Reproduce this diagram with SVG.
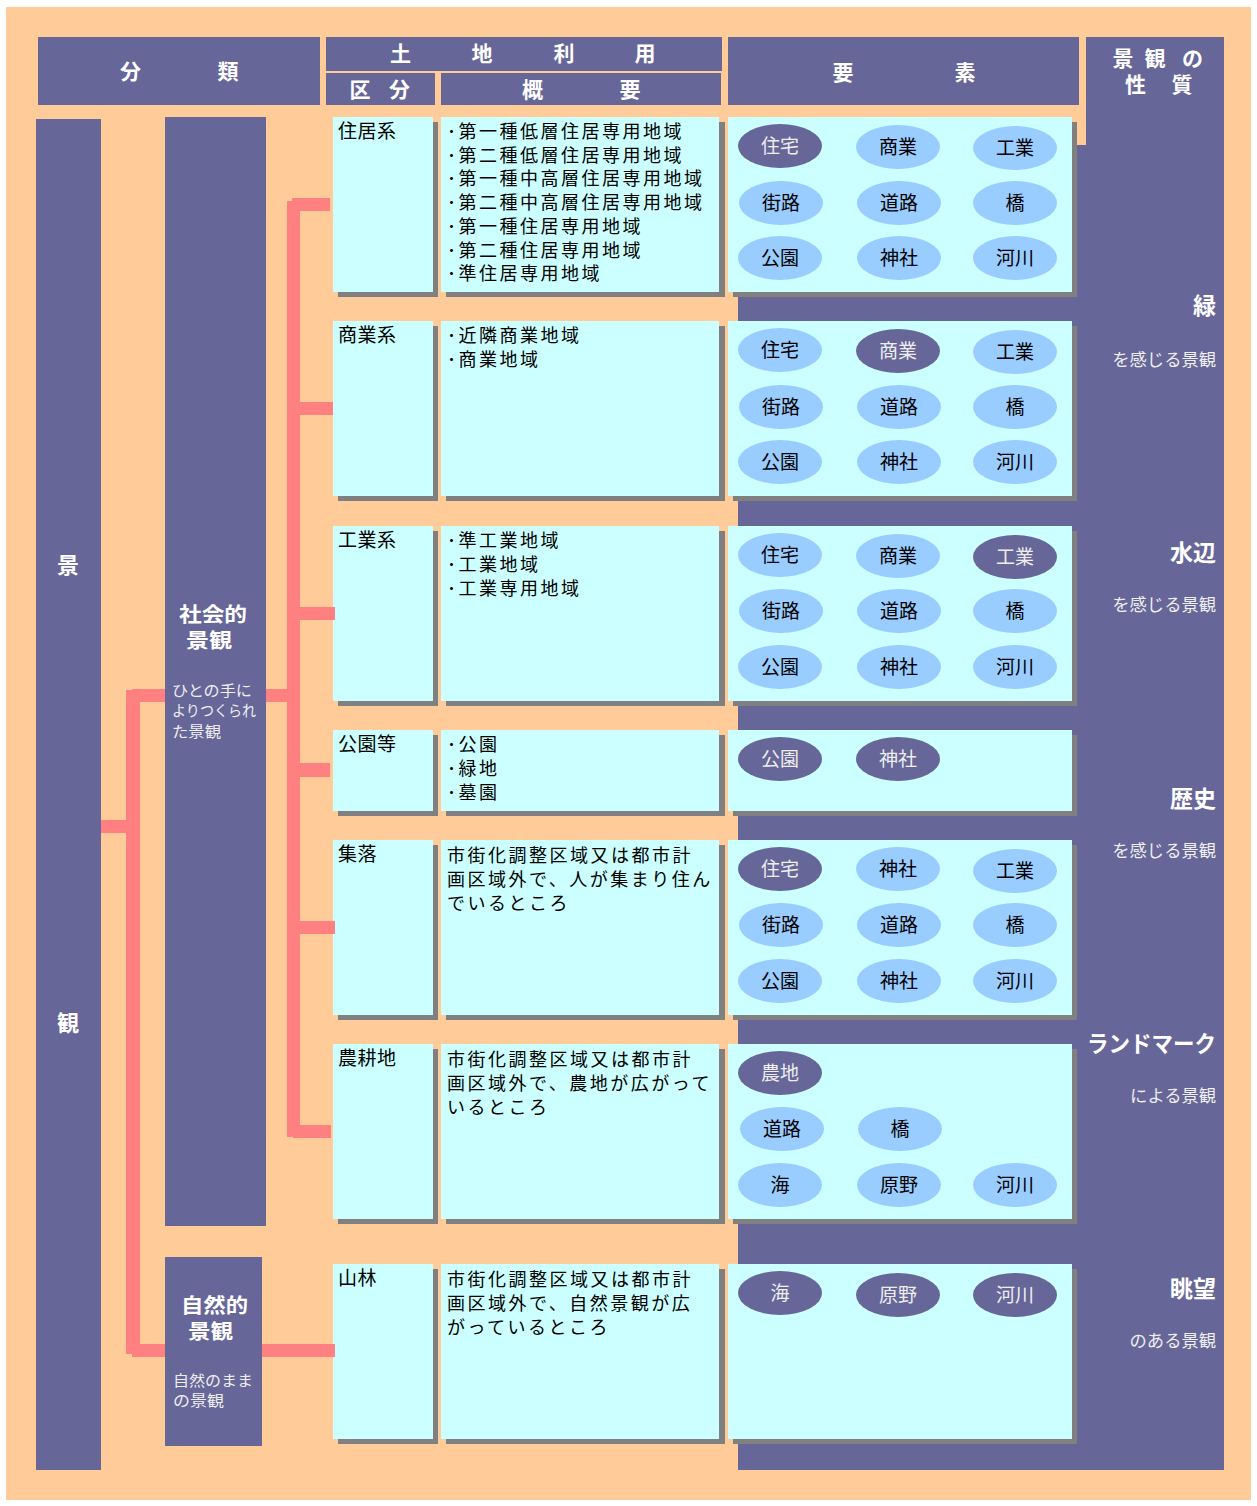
<svg xmlns="http://www.w3.org/2000/svg" width="1257" height="1506" viewBox="0 0 1257 1506">
<defs>
<style>
.bg{fill:#FFCC99}
.pu{fill:#666699}
.cell{fill:#CCFFFF}
.sh{fill:#808080}
.pk{fill:#FF8080}
.el{fill:#99CCFF}
.ed{fill:#666699}
text{font-family:"Noto Sans CJK JP","Noto Sans",sans-serif}
.h{fill:#FFFFFF;font-size:21px;font-weight:bold;text-anchor:middle}
.lab{fill:#000;font-size:19px;letter-spacing:0.5px}
.ov{fill:#000;font-size:18px;letter-spacing:2.5px}
.tl{fill:#000;font-size:19px;text-anchor:middle}
.td{fill:#EEEEEE;font-size:19px;text-anchor:middle}
.big{fill:#FFFFFF;font-size:23px;font-weight:bold;text-anchor:end}
.sm{fill:#EEEEEE;font-size:17.3px;text-anchor:end}
.cat{fill:#FFFFFF;font-size:20px;font-weight:bold}
.cat1{fill:#FFFFFF;font-size:22px;font-weight:bold;text-anchor:middle}
.sub{fill:#EEEEEE;font-size:15px}
</style>
</defs>
<rect x="0" y="0" width="1257" height="1506" fill="#FFFFFF"/>
<rect class="bg" x="6" y="7" width="1245" height="1493"/>

<!-- big purple background of right side -->
<rect class="pu" x="1086" y="37" width="138" height="1433"/>
<rect class="pu" x="738" y="145" width="486" height="1325"/>

<!-- header -->
<g id="hdr-bunrui">
<rect class="pu" x="38" y="37" width="282" height="68"/>
<text class="h" x="130.5" y="79">分</text>
<text class="h" x="228" y="79">類</text>
</g>
<g id="hdr-tochi">
<rect class="pu" x="326" y="37" width="396" height="34"/>
<text class="h" x="400.5" y="61">土</text>
<text class="h" x="482" y="61">地</text>
<text class="h" x="564" y="61">利</text>
<text class="h" x="645" y="61">用</text>
</g>
<g id="hdr-kubun">
<rect class="pu" x="326" y="73" width="109" height="32"/>
<text class="h" x="360" y="97">区</text>
<text class="h" x="399.5" y="97">分</text>
</g>
<g id="hdr-gaiyo">
<rect class="pu" x="441" y="73" width="280" height="32"/>
<text class="h" x="532.5" y="97">概</text>
<text class="h" x="630" y="97">要</text>
</g>
<g id="hdr-yoso">
<rect class="pu" x="728" y="37" width="351" height="68"/>
<text class="h" x="843" y="80">要</text>
<text class="h" x="965" y="80">素</text>
</g>
<g id="hdr-seishitsu">
<text class="h" y="66"><tspan x="1123">景</tspan><tspan x="1155">観</tspan><tspan x="1192.5">の</tspan><tspan x="1135.5" y="92">性</tspan><tspan x="1182" y="92">質</tspan></text>
</g>

<!-- left category columns -->
<g id="keikan">
<rect class="pu" x="36" y="119" width="65" height="1351"/>
<text class="cat1" x="68" y="573">景</text>
<text class="cat1" x="68" y="1031">観</text>
</g>
<g id="shakaiteki">
<rect class="pu" x="165" y="117" width="101" height="1109"/>
<text class="cat"><tspan x="179" y="622" textLength="68" lengthAdjust="spacingAndGlyphs">社会的</tspan><tspan x="186" y="648" textLength="46" lengthAdjust="spacingAndGlyphs">景観</tspan></text>
<text class="sub"><tspan x="172" y="696" textLength="80" lengthAdjust="spacingAndGlyphs">ひとの手に</tspan><tspan x="172" y="716" textLength="84" lengthAdjust="spacingAndGlyphs">よりつくられ</tspan><tspan x="172" y="737" textLength="49" lengthAdjust="spacingAndGlyphs">た景観</tspan></text>
</g>
<g id="shizenteki">
<rect class="pu" x="165" y="1257" width="97" height="189"/>
<text class="cat"><tspan x="181" y="1313" textLength="67" lengthAdjust="spacingAndGlyphs">自然的</tspan><tspan x="188" y="1339" textLength="45" lengthAdjust="spacingAndGlyphs">景観</tspan></text>
<text class="sub"><tspan x="173" y="1386" textLength="80" lengthAdjust="spacingAndGlyphs">自然のまま</tspan><tspan x="173" y="1406" textLength="51" lengthAdjust="spacingAndGlyphs">の景観</tspan></text>
</g>

<!-- row 1 住居系 -->
<g id="row-jukyo">
<rect class="sh" x="338" y="122" width="100" height="175"/>
<rect class="cell" x="333" y="117" width="100" height="175"/>
<text class="lab" x="338" y="138">住居系</text>
<rect class="sh" x="446" y="122" width="279" height="175"/>
<rect class="cell" x="441" y="117" width="278" height="175"/>
<text class="ov"><tspan x="447" y="138">･第一種低層住居専用地域</tspan><tspan x="447" y="161.7">･第二種低層住居専用地域</tspan><tspan x="447" y="185.4">･第一種中高層住居専用地域</tspan><tspan x="447" y="209">･第二種中高層住居専用地域</tspan><tspan x="447" y="232.8">･第一種住居専用地域</tspan><tspan x="447" y="256.5">･第二種住居専用地域</tspan><tspan x="447" y="280.2">･準住居専用地域</tspan></text>
<rect class="sh" x="733" y="122" width="344" height="175"/>
<rect class="cell" x="728" y="117" width="344" height="175"/>
<ellipse class="ed" cx="780" cy="146" rx="42" ry="22"/><text class="td" x="780" y="153">住宅</text>
<ellipse class="el" cx="898" cy="147" rx="42" ry="22"/><text class="tl" x="898" y="154">商業</text>
<ellipse class="el" cx="1015" cy="148" rx="42" ry="22"/><text class="tl" x="1015" y="155">工業</text>
<ellipse class="el" cx="781" cy="203" rx="42" ry="22"/><text class="tl" x="781" y="210">街路</text>
<ellipse class="el" cx="899" cy="203" rx="42" ry="22"/><text class="tl" x="899" y="210">道路</text>
<ellipse class="el" cx="1015" cy="203" rx="42" ry="22"/><text class="tl" x="1015" y="210">橋</text>
<ellipse class="el" cx="780" cy="258" rx="42" ry="22"/><text class="tl" x="780" y="265">公園</text>
<ellipse class="el" cx="899" cy="258" rx="42" ry="22"/><text class="tl" x="899" y="265">神社</text>
<ellipse class="el" cx="1015" cy="258" rx="42" ry="22"/><text class="tl" x="1015" y="265">河川</text>
</g>

<!-- row 2 商業系 -->
<g id="row-shogyo">
<rect class="sh" x="338" y="326" width="100" height="175"/>
<rect class="cell" x="333" y="321" width="100" height="175"/>
<text class="lab" x="338" y="342">商業系</text>
<rect class="sh" x="446" y="326" width="279" height="175"/>
<rect class="cell" x="441" y="321" width="278" height="175"/>
<text class="ov"><tspan x="447" y="342">･近隣商業地域</tspan><tspan x="447" y="366">･商業地域</tspan></text>
<rect class="sh" x="733" y="326" width="344" height="175"/>
<rect class="cell" x="728" y="321" width="344" height="175"/>
<ellipse class="el" cx="780" cy="350" rx="42" ry="22"/><text class="tl" x="780" y="357">住宅</text>
<ellipse class="ed" cx="898" cy="351" rx="42" ry="22"/><text class="td" x="898" y="358">商業</text>
<ellipse class="el" cx="1015" cy="352" rx="42" ry="22"/><text class="tl" x="1015" y="359">工業</text>
<ellipse class="el" cx="781" cy="407" rx="42" ry="22"/><text class="tl" x="781" y="414">街路</text>
<ellipse class="el" cx="899" cy="407" rx="42" ry="22"/><text class="tl" x="899" y="414">道路</text>
<ellipse class="el" cx="1015" cy="407" rx="42" ry="22"/><text class="tl" x="1015" y="414">橋</text>
<ellipse class="el" cx="780" cy="462" rx="42" ry="22"/><text class="tl" x="780" y="469">公園</text>
<ellipse class="el" cx="899" cy="462" rx="42" ry="22"/><text class="tl" x="899" y="469">神社</text>
<ellipse class="el" cx="1015" cy="462" rx="42" ry="22"/><text class="tl" x="1015" y="469">河川</text>
</g>

<!-- row 3 工業系 -->
<g id="row-kogyo">
<rect class="sh" x="338" y="531" width="100" height="175"/>
<rect class="cell" x="333" y="526" width="100" height="175"/>
<text class="lab" x="338" y="547">工業系</text>
<rect class="sh" x="446" y="531" width="279" height="175"/>
<rect class="cell" x="441" y="526" width="278" height="175"/>
<text class="ov"><tspan x="447" y="547">･準工業地域</tspan><tspan x="447" y="571">･工業地域</tspan><tspan x="447" y="595">･工業専用地域</tspan></text>
<rect class="sh" x="733" y="531" width="344" height="175"/>
<rect class="cell" x="728" y="526" width="344" height="175"/>
<ellipse class="el" cx="780" cy="555" rx="42" ry="22"/><text class="tl" x="780" y="562">住宅</text>
<ellipse class="el" cx="898" cy="556" rx="42" ry="22"/><text class="tl" x="898" y="563">商業</text>
<ellipse class="ed" cx="1015" cy="557" rx="42" ry="22"/><text class="td" x="1015" y="564">工業</text>
<ellipse class="el" cx="781" cy="611" rx="42" ry="22"/><text class="tl" x="781" y="618">街路</text>
<ellipse class="el" cx="899" cy="611" rx="42" ry="22"/><text class="tl" x="899" y="618">道路</text>
<ellipse class="el" cx="1015" cy="611" rx="42" ry="22"/><text class="tl" x="1015" y="618">橋</text>
<ellipse class="el" cx="780" cy="667" rx="42" ry="22"/><text class="tl" x="780" y="674">公園</text>
<ellipse class="el" cx="899" cy="667" rx="42" ry="22"/><text class="tl" x="899" y="674">神社</text>
<ellipse class="el" cx="1015" cy="667" rx="42" ry="22"/><text class="tl" x="1015" y="674">河川</text>
</g>

<!-- row 4 公園等 -->
<g id="row-koen">
<rect class="sh" x="338" y="735" width="100" height="81"/>
<rect class="cell" x="333" y="730" width="100" height="81"/>
<text class="lab" x="338" y="751">公園等</text>
<rect class="sh" x="446" y="735" width="279" height="81"/>
<rect class="cell" x="441" y="730" width="278" height="81"/>
<text class="ov"><tspan x="447" y="751">･公園</tspan><tspan x="447" y="775">･緑地</tspan><tspan x="447" y="799">･墓園</tspan></text>
<rect class="sh" x="733" y="735" width="344" height="81"/>
<rect class="cell" x="728" y="730" width="344" height="81"/>
<ellipse class="ed" cx="780" cy="759" rx="42" ry="22"/><text class="td" x="780" y="766">公園</text>
<ellipse class="ed" cx="898" cy="759" rx="42" ry="22"/><text class="td" x="898" y="766">神社</text>
</g>

<!-- row 5 集落 -->
<g id="row-shuraku">
<rect class="sh" x="338" y="845" width="100" height="175"/>
<rect class="cell" x="333" y="840" width="100" height="175"/>
<text class="lab" x="338" y="861">集落</text>
<rect class="sh" x="446" y="845" width="279" height="175"/>
<rect class="cell" x="441" y="840" width="278" height="175"/>
<text class="ov"><tspan x="447" y="862">市街化調整区域又は都市計</tspan><tspan x="447" y="886">画区域外で、人が集まり住ん</tspan><tspan x="447" y="910">でいるところ</tspan></text>
<rect class="sh" x="733" y="845" width="344" height="175"/>
<rect class="cell" x="728" y="840" width="344" height="175"/>
<ellipse class="ed" cx="780" cy="869" rx="42" ry="22"/><text class="td" x="780" y="876">住宅</text>
<ellipse class="el" cx="898" cy="869" rx="42" ry="22"/><text class="tl" x="898" y="876">神社</text>
<ellipse class="el" cx="1015" cy="871" rx="42" ry="22"/><text class="tl" x="1015" y="878">工業</text>
<ellipse class="el" cx="781" cy="925" rx="42" ry="22"/><text class="tl" x="781" y="932">街路</text>
<ellipse class="el" cx="899" cy="925" rx="42" ry="22"/><text class="tl" x="899" y="932">道路</text>
<ellipse class="el" cx="1015" cy="925" rx="42" ry="22"/><text class="tl" x="1015" y="932">橋</text>
<ellipse class="el" cx="780" cy="981" rx="42" ry="22"/><text class="tl" x="780" y="988">公園</text>
<ellipse class="el" cx="899" cy="981" rx="42" ry="22"/><text class="tl" x="899" y="988">神社</text>
<ellipse class="el" cx="1015" cy="981" rx="42" ry="22"/><text class="tl" x="1015" y="988">河川</text>
</g>

<!-- row 6 農耕地 -->
<g id="row-noko">
<rect class="sh" x="338" y="1049" width="100" height="175"/>
<rect class="cell" x="333" y="1044" width="100" height="175"/>
<text class="lab" x="338" y="1065">農耕地</text>
<rect class="sh" x="446" y="1049" width="279" height="175"/>
<rect class="cell" x="441" y="1044" width="278" height="175"/>
<text class="ov"><tspan x="447" y="1066">市街化調整区域又は都市計</tspan><tspan x="447" y="1090">画区域外で、農地が広がって</tspan><tspan x="447" y="1114">いるところ</tspan></text>
<rect class="sh" x="733" y="1049" width="344" height="175"/>
<rect class="cell" x="728" y="1044" width="344" height="175"/>
<ellipse class="ed" cx="780" cy="1073" rx="42" ry="22"/><text class="td" x="780" y="1080">農地</text>
<ellipse class="el" cx="782" cy="1129" rx="42" ry="22"/><text class="tl" x="782" y="1136">道路</text>
<ellipse class="el" cx="900" cy="1129" rx="42" ry="22"/><text class="tl" x="900" y="1136">橋</text>
<ellipse class="el" cx="780" cy="1185" rx="42" ry="22"/><text class="tl" x="780" y="1192">海</text>
<ellipse class="el" cx="899" cy="1185" rx="42" ry="22"/><text class="tl" x="899" y="1192">原野</text>
<ellipse class="el" cx="1015" cy="1185" rx="42" ry="22"/><text class="tl" x="1015" y="1192">河川</text>
</g>

<!-- row 7 山林 -->
<g id="row-sanrin">
<rect class="sh" x="338" y="1269" width="100" height="175"/>
<rect class="cell" x="333" y="1264" width="100" height="175"/>
<text class="lab" x="338" y="1285">山林</text>
<rect class="sh" x="446" y="1269" width="279" height="175"/>
<rect class="cell" x="441" y="1264" width="278" height="175"/>
<text class="ov"><tspan x="447" y="1286">市街化調整区域又は都市計</tspan><tspan x="447" y="1310">画区域外で、自然景観が広</tspan><tspan x="447" y="1334">がっているところ</tspan></text>
<rect class="sh" x="733" y="1269" width="344" height="175"/>
<rect class="cell" x="728" y="1264" width="344" height="175"/>
<ellipse class="ed" cx="780" cy="1293" rx="42" ry="22"/><text class="td" x="780" y="1300">海</text>
<ellipse class="ed" cx="898" cy="1295" rx="42" ry="22"/><text class="td" x="898" y="1302">原野</text>
<ellipse class="ed" cx="1015" cy="1295" rx="42" ry="22"/><text class="td" x="1015" y="1302">河川</text>
</g>

<!-- right-side qualities -->
<g id="q-midori"><text class="big" x="1216" y="314">緑</text><text class="sm" x="1216" y="366">を感じる景観</text></g>
<g id="q-mizube"><text class="big" x="1216" y="561">水辺</text><text class="sm" x="1216" y="611">を感じる景観</text></g>
<g id="q-rekishi"><text class="big" x="1216" y="807">歴史</text><text class="sm" x="1216" y="857">を感じる景観</text></g>
<g id="q-landmark"><text class="big" x="1216" y="1052" textLength="129" lengthAdjust="spacingAndGlyphs">ランドマーク</text><text class="sm" x="1216" y="1102">による景観</text></g>
<g id="q-chobo"><text class="big" x="1216" y="1297">眺望</text><text class="sm" x="1216" y="1347">のある景観</text></g>

<!-- connectors -->
<g id="connectors">
<rect class="pk" x="101" y="820" width="25" height="13"/>
<rect class="pk" x="126" y="690" width="14" height="664"/>
<rect class="pk" x="132" y="689" width="33" height="13"/>
<rect class="pk" x="132" y="1344" width="33" height="13"/>
<rect class="pk" x="266" y="689" width="21" height="13"/>
<rect class="pk" x="287" y="201" width="13" height="936"/>
<rect class="pk" x="292" y="198" width="38" height="13"/>
<rect class="pk" x="300" y="402" width="33" height="13"/>
<rect class="pk" x="300" y="607" width="35" height="13"/>
<rect class="pk" x="300" y="763" width="30" height="14"/>
<rect class="pk" x="300" y="921" width="35" height="13"/>
<rect class="pk" x="293" y="1125" width="38" height="13"/>
<rect class="pk" x="262" y="1344" width="73" height="13"/>
</g>
</svg>
